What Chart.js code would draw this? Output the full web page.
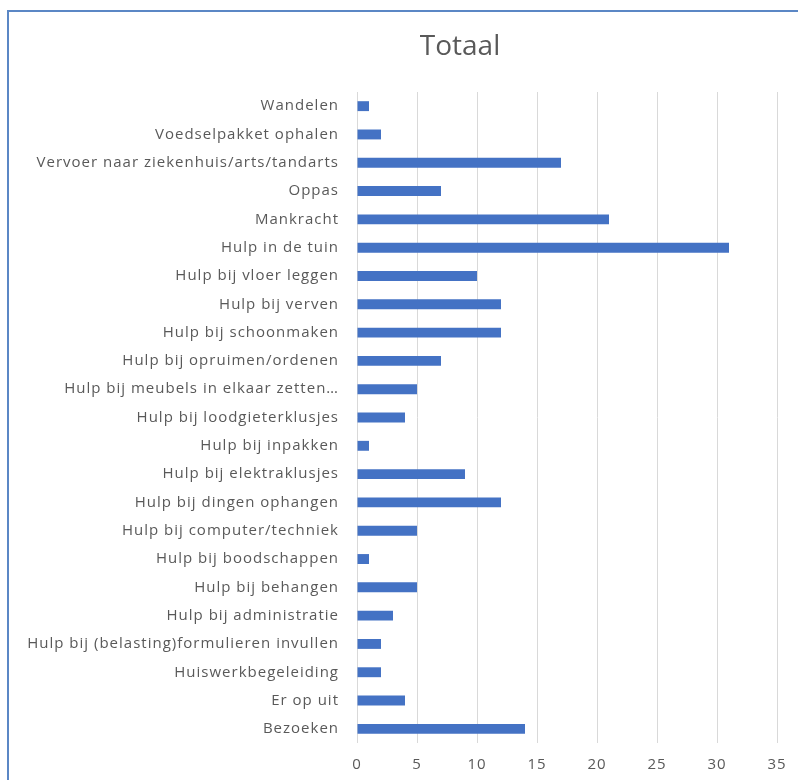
<!DOCTYPE html>
<html>
<head>
<meta charset="utf-8">
<script src="https://cdn.jsdelivr.net/npm/chart.js@4/dist/chart.umd.min.js"></script>
<style>
  html, body { margin: 0; padding: 0; background: #fff; overflow: hidden; }
  #frame {
    position: absolute; left: 7px; top: 10px;
    width: 902px; height: 800px;
    border: 2px solid #5b87c5;
  }
  #frame canvas { display: block; }
</style>
</head>
<body>
<div id="frame"><canvas id="totaalChart" width="902" height="800"></canvas></div>
<script>
const categories = [
    "Wandelen",
    "Voedselpakket ophalen",
    "Vervoer naar ziekenhuis/arts/tandarts",
    "Oppas",
    "Mankracht",
    "Hulp in de tuin",
    "Hulp bij vloer leggen",
    "Hulp bij verven",
    "Hulp bij schoonmaken",
    "Hulp bij opruimen/ordenen",
    "Hulp bij meubels in elkaar zetten…",
    "Hulp bij loodgieterklusjes",
    "Hulp bij inpakken",
    "Hulp bij elektraklusjes",
    "Hulp bij dingen ophangen",
    "Hulp bij computer/techniek",
    "Hulp bij boodschappen",
    "Hulp bij behangen",
    "Hulp bij administratie",
    "Hulp bij (belasting)formulieren invullen",
    "Huiswerkbegeleiding",
    "Er op uit",
    "Bezoeken"
];
const totaal = [1, 2, 17, 7, 21, 31, 10, 12, 12, 7, 5, 4, 1, 9, 12, 5, 1, 5, 3, 2, 2, 4, 14];
const xTicks = [0, 5, 10, 15, 20, 25, 30, 35];
const chartTitle = 'Totaal';

const textColor = '#595959';
const fontFamily = '"Open Sans", "Liberation Sans", sans-serif';

// Excel-like wide text spacing for the axis labels
const spacingPlugin = {
    id: 'spacing',
    beforeUpdate(chart) { chart.ctx.letterSpacing = '1px'; },
    beforeDraw(chart) { chart.ctx.letterSpacing = '1px'; }
};

// title centred over the whole (cropped) chart box, not the padded area
const titlePlugin = {
    id: 'centerTitle',
    afterDraw(chart) {
        const c = chart.ctx;
        c.save();
        c.letterSpacing = '0px';
        c.font = '28px ' + fontFamily;
        c.fillStyle = textColor;
        c.textAlign = 'center';
        c.textBaseline = 'middle';
        c.fillText(chartTitle, chart.width / 2, 35);
        c.restore();
    }
};

const ctx = document.getElementById('totaalChart').getContext('2d');
ctx.letterSpacing = '1px';
new Chart(ctx, {
    type: 'bar',
    data: {
        labels: categories,
        datasets: [{
            label: chartTitle,
            data: totaal,
            backgroundColor: '#4472c4',
            barPercentage: 0.5,
            categoryPercentage: 0.7
        }]
    },
    options: {
        indexAxis: 'y',
        responsive: false,
        animation: false,
        layout: { padding: { left: 0, right: 134, top: 80, bottom: 29 } },
        plugins: {
            legend: { display: false },
            tooltip: { enabled: false },
            title: { display: false }
        },
        scales: {
            x: {
                min: 0,
                max: 35,
                afterBuildTicks: (scale) => { scale.ticks = xTicks.map(v => ({ value: v })); },
                afterFit: (scale) => { scale.height = 40; },
                grid: { color: '#d9d9d9', lineWidth: 1, drawTicks: false },
                border: { display: false },
                ticks: { color: textColor, padding: 13, font: { family: fontFamily, size: 15 } }
            },
            y: {
                afterFit: (scale) => { scale.width = 348; },
                grid: { display: false, drawTicks: false },
                border: { display: false },
                ticks: { color: textColor, padding: 18, autoSkip: false, font: { family: fontFamily, size: 15 } }
            }
        }
    },
    plugins: [spacingPlugin, titlePlugin]
});
</script>
</body>
</html>
